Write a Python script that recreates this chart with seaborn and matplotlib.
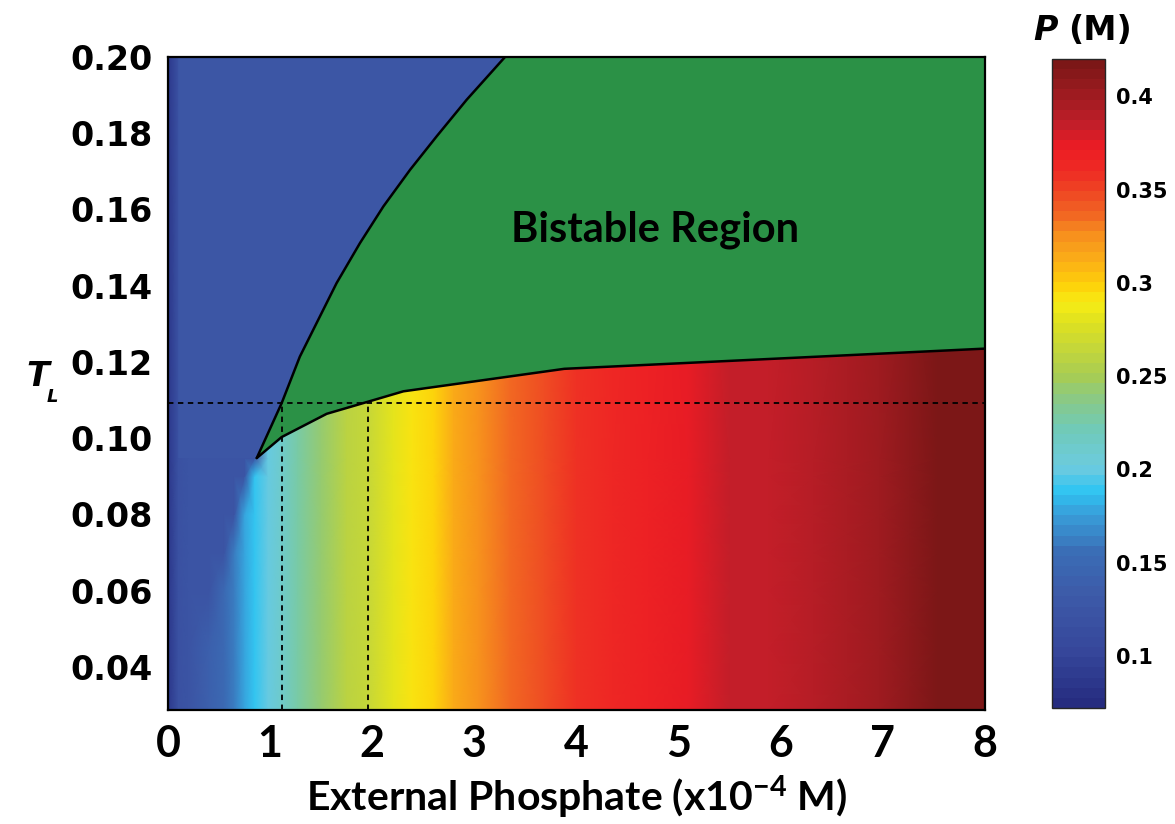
import numpy as np
import seaborn as sns
import matplotlib
matplotlib.use("Agg")
import matplotlib.pyplot as plt
from matplotlib.colors import LinearSegmentedColormap, ListedColormap, Normalize

# P (M) across external phosphate (x1e-4 M), read along the bottom of the map
phosphate = [0, 0.1, 0.2, 0.4, 0.55, 0.65, 0.75, 0.85, 0.98, 1.1, 1.27, 1.5, 1.75, 1.95,
             2.2, 2.39, 2.6, 2.8, 3.05, 3.35, 3.69, 4.0, 4.35, 4.7, 5.09, 5.5, 5.88,
             6.32, 6.97, 7.54, 8.0]
p_level = [0.085, 0.118, 0.128, 0.138, 0.15, 0.163, 0.177, 0.187, 0.2, 0.21, 0.225, 0.245,
           0.26, 0.267, 0.283, 0.29, 0.3, 0.312, 0.323, 0.337, 0.347, 0.357, 0.363, 0.37,
           0.375, 0.382, 0.387, 0.392, 0.4, 0.416, 0.418]

# T_L rows and how far right the low (blue) state reaches in each row
tl_rows = [0.0287, 0.045, 0.06, 0.07, 0.08, 0.09, 0.0948, 0.2]
low_edge = [0.3, 0.4, 0.5, 0.6, 0.7, 0.78, 0.86, 0.86]
p_low = 0.125

# bistable region boundaries
upper_x = [0.869, 1.113, 1.291, 1.455, 1.651, 1.880, 2.109, 2.370, 2.631, 2.925, 3.300]
upper_t = [0.0948, 0.1092, 0.1214, 0.1302, 0.1407, 0.1512, 0.1608, 0.1704, 0.1792,
           0.1888, 0.2000]
lower_x = [0.869, 1.113, 1.554, 1.962, 2.305, 3.88, 8.0]
lower_t = [0.0948, 0.1003, 0.1064, 0.1096, 0.1123, 0.1182, 0.1235]

# guide lines
guide_t = 0.1092
guide_x = [1.113, 1.962]

# colour scale of the bar
cbar_levels = [0.072, 0.10, 0.13, 0.155, 0.175, 0.187, 0.20, 0.22, 0.235, 0.25, 0.265,
               0.28, 0.29, 0.30, 0.312, 0.325, 0.337, 0.35, 0.363, 0.375, 0.387, 0.40, 0.42]
cbar_colors = ["#262c80", "#36479b", "#3d5aa8", "#3a6fb7", "#399fda", "#2ec4f2", "#6ccbe0",
               "#70cab9", "#86c98c", "#a6cc55", "#c4d63a", "#dfe21f", "#f7ec14", "#fed00a",
               "#fbb016", "#f7941d", "#f26b22", "#ef4923", "#ee2a24", "#ec1c24", "#c41e29",
               "#a51c22", "#7c1717"]
cbar_ticks = [0.1, 0.15, 0.2, 0.25, 0.3, 0.35, 0.4]
cbar_ticklabels = ["0.1", "0.15", "0.2", "0.25", "0.3", "0.35", "0.4"]

sns.set_style("white")
narrow = ["Lato", "DejaVu Sans"]
wide = ["DejaVu Sans"]
plt.rcParams["font.family"] = narrow
plt.rcParams["font.weight"] = "bold"
plt.rcParams["text.color"] = "black"
plt.rcParams["xtick.color"] = "black"
plt.rcParams["ytick.color"] = "black"
plt.rcParams["axes.labelcolor"] = "black"
plt.rcParams["mathtext.fontset"] = "custom"
plt.rcParams["mathtext.rm"] = "Lato:bold"
plt.rcParams["mathtext.it"] = "Lato:bold"
plt.rcParams["mathtext.bf"] = "Lato:bold"

vmin, vmax = cbar_levels[0], cbar_levels[-1]
pos = [(v - vmin) / (vmax - vmin) for v in cbar_levels]
smooth = LinearSegmentedColormap.from_list("pmap", list(zip(pos, cbar_colors)))
cmap = ListedColormap(smooth(np.linspace(0, 1, 64)))
norm = Normalize(vmin, vmax)

# field table: profile along x, low state left of each row's edge
field = np.array([[min(p, p_low) if x < e else p for x, p in zip(phosphate, p_level)]
                  for e in low_edge])
X, Y = np.meshgrid(phosphate, tl_rows)

W, H = 1175, 824
fig = plt.figure(figsize=(W / 100, H / 100), dpi=100)
ax = fig.add_axes([168 / W, 1 - 710 / H, 817 / W, 653 / H])
cax = fig.add_axes([1052 / W, 1 - 708 / H, 53 / W, 649 / H])

mesh = ax.pcolormesh(X, Y, field, shading="gouraud", cmap=cmap, norm=norm, zorder=1)

blue = smooth((p_low - vmin) / (vmax - vmin))
ax.fill([0.1] + upper_x + [0.1], [upper_t[0]] + upper_t + [0.2], color=blue, lw=0, zorder=2)
ax.fill(upper_x + [8.0] + lower_x[::-1], upper_t + [0.2] + lower_t[::-1],
        color="#2b9146", lw=0, zorder=2)

sns.lineplot(x=upper_x, y=upper_t, ax=ax, color="black", lw=1.8, sort=False,
             estimator=None, zorder=4)
sns.lineplot(x=lower_x, y=lower_t, ax=ax, color="black", lw=1.8, sort=False,
             estimator=None, zorder=4)
ax.plot([0, 8], [guide_t, guide_t], color="black", lw=1.3, ls=(0, (3, 2.5)), zorder=3)
for gx in guide_x:
    ax.plot([gx, gx], [0.0287, guide_t], color="black", lw=1.3, ls=(0, (3, 2.5)), zorder=3)

ax.text(4.77, 0.1547, "Bistable Region", fontsize=30, fontweight="bold",
        ha="center", va="center", zorder=5)

ax.set_xlim(0, 8)
ax.set_ylim(0.0287, 0.20)
ax.set_xticks(range(9))
ax.set_yticks([0.04, 0.06, 0.08, 0.10, 0.12, 0.14, 0.16, 0.18, 0.20])
ax.set_yticklabels([f"{t:.2f}" for t in ax.get_yticks()], family=wide, fontsize=24,
                   fontweight="bold")
ax.tick_params(axis="x", length=0, pad=10, labelsize=31)
ax.tick_params(axis="y", length=0, pad=11)
ax.set_xlabel("External Phosphate (x10$^{-4}$ M)", fontsize=29.5, fontweight="bold",
              labelpad=7)
for s in ax.spines.values():
    s.set_linewidth(1.6)
    s.set_color("black")

fig.text(38 / W, 1 - 376 / H, "T", family=wide, fontsize=24, fontweight="bold",
         style="italic", ha="center", va="center")
fig.text(52 / W, 1 - 397 / H, "L", family=wide, fontsize=13, fontweight="bold",
         style="italic", ha="center", va="center")

cb = fig.colorbar(mesh, cax=cax)
cb.set_ticks(cbar_ticks)
cb.set_ticklabels(cbar_ticklabels)
cb.outline.set_linewidth(1.0)
cax.tick_params(direction="in", length=5, width=1.2, left=True, right=True, pad=8)
for lab in cax.get_yticklabels():
    lab.set_family(wide)
    lab.set_fontsize(15)
    lab.set_fontweight("bold")

fig.text(1046 / W, 1 - 31 / H, "P", family=wide, fontsize=24, fontweight="bold",
         style="italic", ha="center", va="center")
fig.text(1068 / W, 1 - 31 / H, "(M)", family=wide, fontsize=24, fontweight="bold",
         ha="left", va="center")

fig.savefig("out.png", dpi=100)
